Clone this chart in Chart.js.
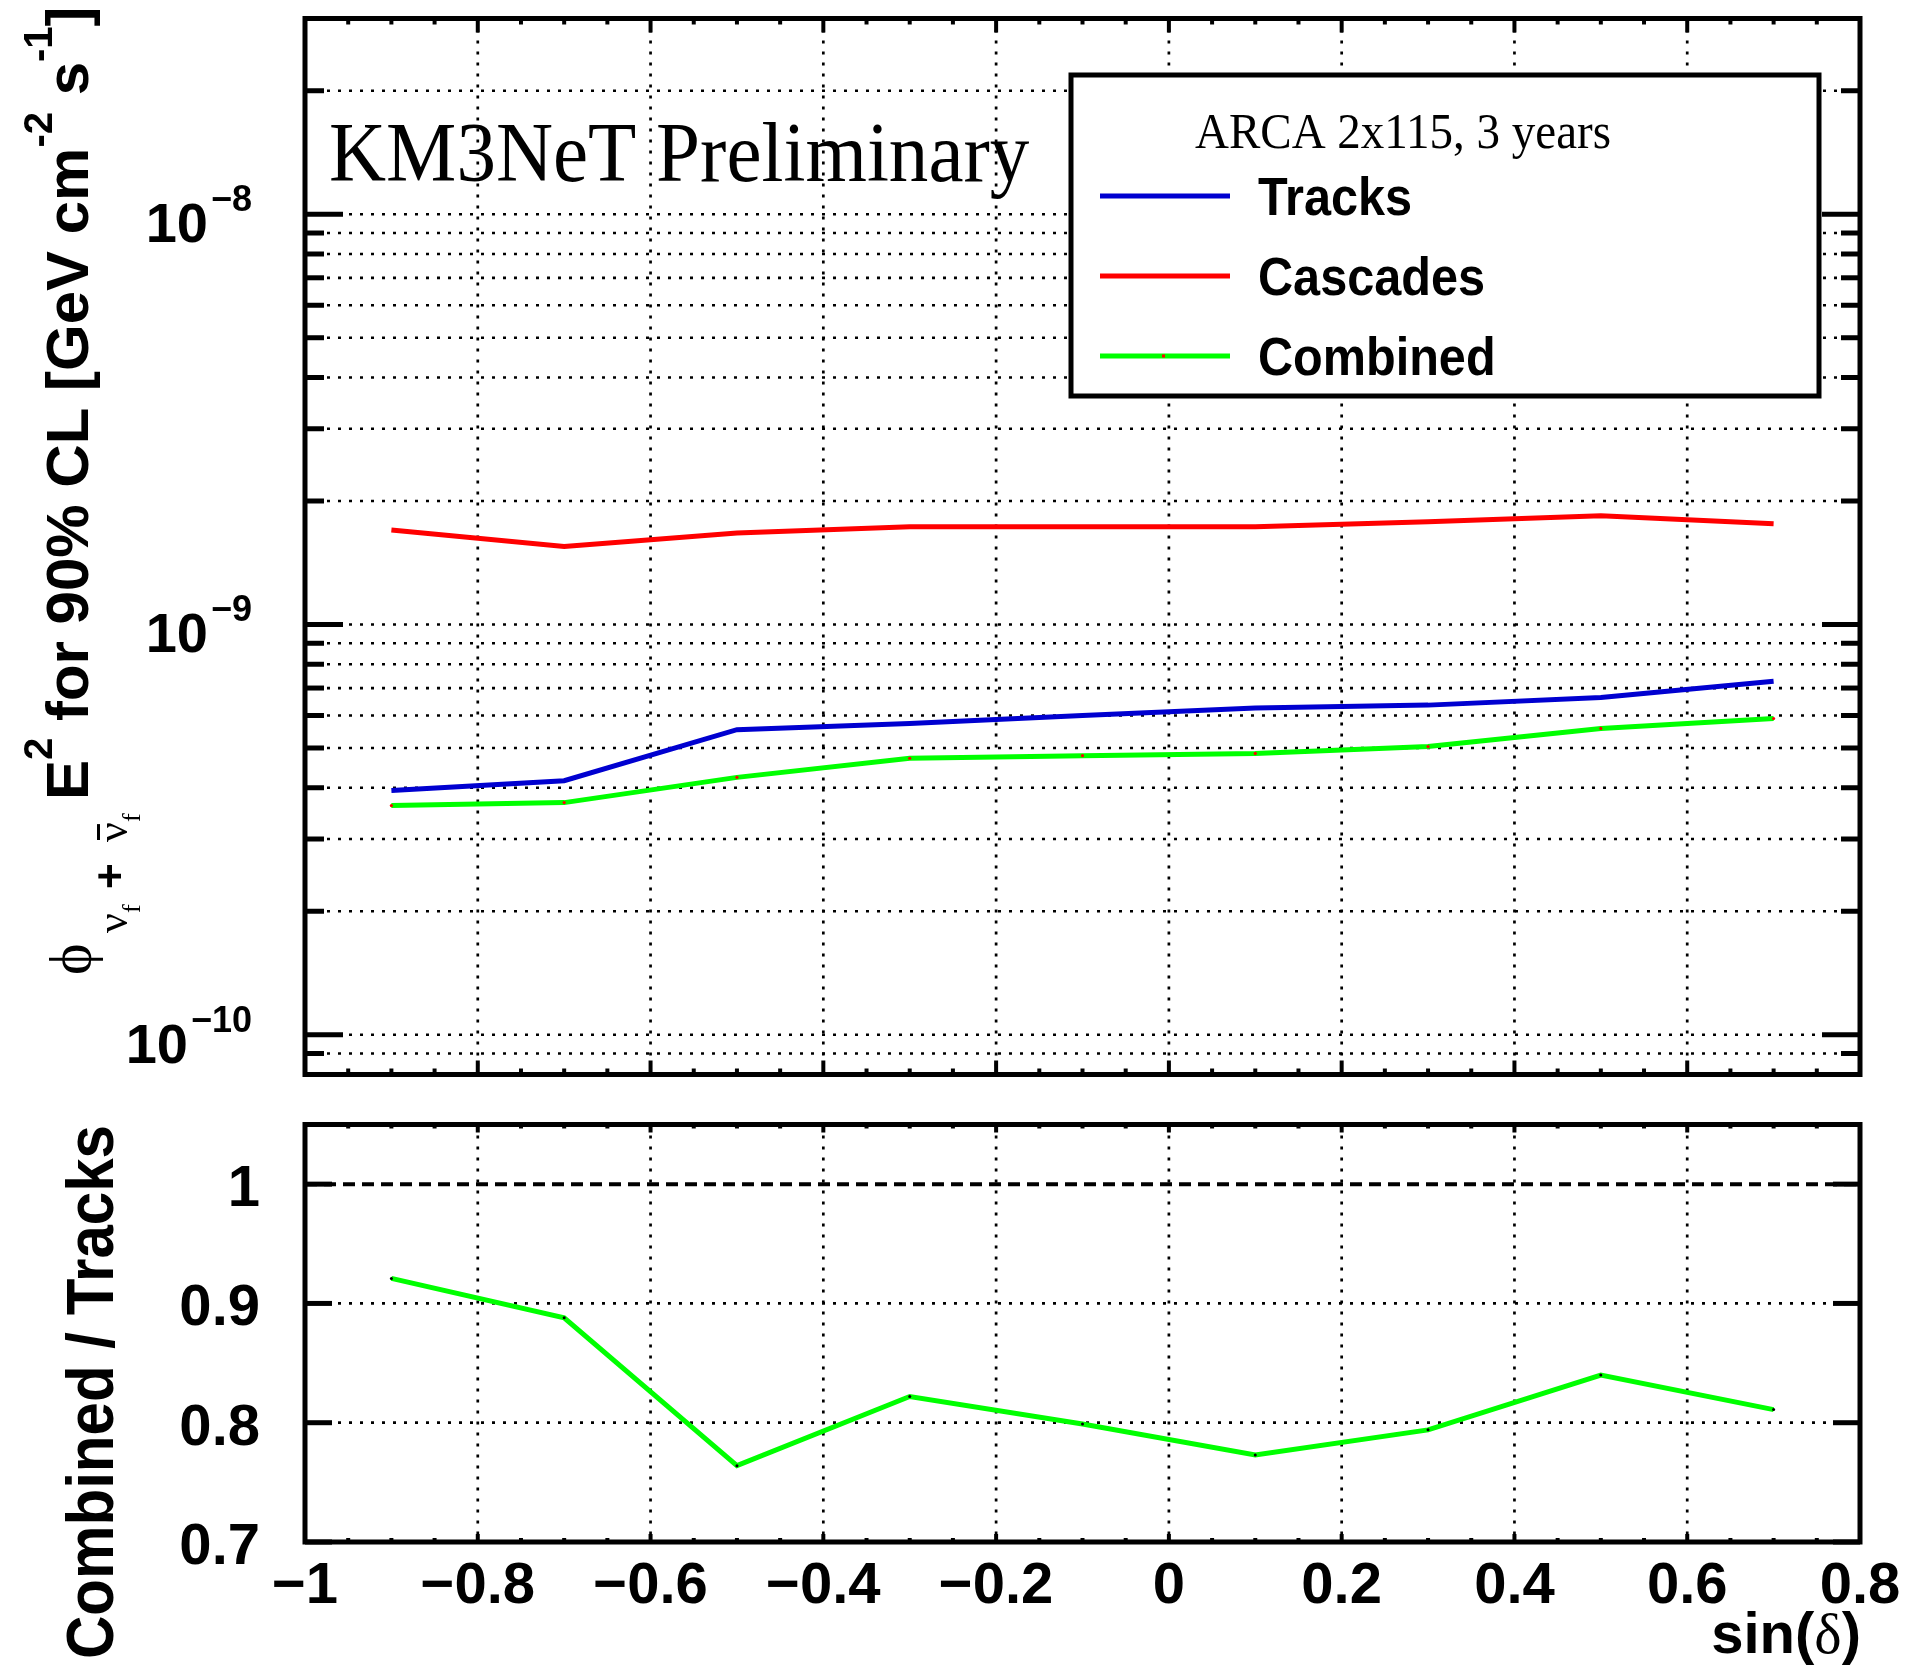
<!DOCTYPE html>
<html>
<head>
<meta charset="UTF-8">
<title>KM3NeT ARCA - limites 90% CL</title>
<script src="https://cdn.jsdelivr.net/npm/chart.js"></script>
<style>
  body { margin: 0; background: #fff; }
  #wrap { position: relative; width: 1906px; height: 1672px; }
  canvas { position: absolute; left: 0; top: 0; }
</style>
</head>
<body>
<div id="wrap">
  <canvas id="haut" width="1906" height="1672"></canvas>
  <canvas id="bas" width="1906" height="1672"></canvas>
</div>
<script>
// valeurs
const sinDec = [-0.9, -0.7, -0.5, -0.3, -0.1, 0.1, 0.3, 0.5, 0.7];
const tracks = [3.94e-10, 4.16e-10, 5.54e-10, 5.74e-10, 6.0e-10, 6.26e-10, 6.36e-10, 6.64e-10, 7.27e-10];
const cascades = [1.70e-9, 1.55e-9, 1.67e-9, 1.73e-9, 1.73e-9, 1.73e-9, 1.78e-9, 1.84e-9, 1.76e-9];
const combined = [3.62e-10, 3.68e-10, 4.24e-10, 4.72e-10, 4.79e-10, 4.85e-10, 5.04e-10, 5.58e-10, 5.90e-10];
const ratio = [0.921, 0.888, 0.764, 0.822, 0.799, 0.773, 0.794, 0.840, 0.811];
const refLineX = [-1, 0.8];
const refLineY = [1, 1];

// axes
const xTicks = [-1, -0.8, -0.6, -0.4, -0.2, 0, 0.2, 0.4, 0.6, 0.8];
const xTickLabels = ['\u22121', '\u22120.8', '\u22120.6', '\u22120.4', '\u22120.2', '0', '0.2', '0.4', '0.6', '0.8'];
const yLogMajor = [1e-10, 1e-9, 1e-8];
const yLogExp = ['\u221210', '\u22129', '\u22128'];
const yLogGrid = [9e-11, 1e-10, 2e-10, 3e-10, 4e-10, 5e-10, 6e-10, 7e-10, 8e-10, 9e-10,
                  1e-9, 2e-9, 3e-9, 4e-9, 5e-9, 6e-9, 7e-9, 8e-9, 9e-9, 1e-8, 2e-8];
const yRatioTicks = [0.7, 0.8, 0.9, 1];
const yRatioLabels = ['0.7', '0.8', '0.9', '1'];

const SANS = '"Liberation Sans", Arial, Helvetica, sans-serif';
const SERIF = '"Liberation Serif", "Times New Roman", serif';

const xMinor = [];
for (let v = -1; v <= 0.8001; v += 0.05) xMinor.push(+v.toFixed(2));

function pts(ys) {
    return sinDec.map((x, i) => ({x: x, y: ys[i]}));
}

function dotted(ctx, x1, y1, x2, y2) {
    ctx.save();
    ctx.strokeStyle = '#000';
    ctx.lineWidth = 2.7;
    ctx.setLineDash([3, 8]);
    ctx.beginPath();
    ctx.moveTo(x1, y1);
    ctx.lineTo(x2, y2);
    ctx.stroke();
    ctx.restore();
}

function seg(ctx, x1, y1, x2, y2, w) {
    ctx.save();
    ctx.strokeStyle = '#000';
    ctx.lineWidth = w;
    ctx.beginPath();
    ctx.moveTo(x1, y1);
    ctx.lineTo(x2, y2);
    ctx.stroke();
    ctx.restore();
}

function texte(ctx, str, x, y, font, align, sx) {
    sx = sx || 1;
    ctx.save();
    ctx.font = font;
    ctx.fillStyle = '#000';
    ctx.textBaseline = 'alphabetic';
    ctx.textAlign = 'left';
    const w = ctx.measureText(str).width * sx;
    const x0 = align === 'right' ? x - w : (align === 'center' ? x - w / 2 : x);
    ctx.translate(x0, y);
    ctx.scale(sx, 1);
    ctx.fillText(str, 0, 0);
    ctx.restore();
    return w;
}

// texte tourne de -90 degres, morceaux a la suite (at = position absolue le long du texte)
function texteVertical(ctx, ox, oy, parts) {
    ctx.save();
    ctx.translate(ox, oy);
    ctx.rotate(-Math.PI / 2);
    ctx.fillStyle = '#000';
    ctx.textBaseline = 'alphabetic';
    let x = 0;
    for (const p of parts) {
        ctx.font = p.font;
        if (p.at != null) x = p.at;
        const w = ctx.measureText(p.t).width;
        ctx.fillText(p.t, x, p.dy || 0);
        if (p.bar) ctx.fillRect(x + 2, p.dy - 30, w - 4, 3);
        x += w;
    }
    ctx.restore();
}

function frame(ctx, a) {
    ctx.save();
    ctx.strokeStyle = '#000';
    ctx.lineWidth = 5;
    ctx.strokeRect(a.left, a.top, a.right - a.left, a.bottom - a.top);
    ctx.restore();
}

const cadreHaut = {
    id: 'cadreHaut',
    beforeDatasetsDraw(chart) {
        const ctx = chart.ctx, a = chart.chartArea;
        const sx = chart.scales.x, sy = chart.scales.y;
        xTicks.slice(1, -1).forEach(v => {
            const px = sx.getPixelForValue(v);
            dotted(ctx, px, a.top, px, a.bottom);
        });
        yLogGrid.forEach(v => {
            const py = sy.getPixelForValue(v);
            dotted(ctx, a.left, py, a.right, py);
        });
    },
    afterDatasetsDraw(chart) {
        const ctx = chart.ctx, a = chart.chartArea;
        const sx = chart.scales.x, sy = chart.scales.y;

        // ticks
        yLogGrid.forEach(v => {
            const py = sy.getPixelForValue(v);
            const len = yLogMajor.includes(v) ? 38 : 19;
            seg(ctx, a.left, py, a.left + len, py, 5);
            seg(ctx, a.right, py, a.right - len, py, 5);
        });
        xMinor.forEach(v => {
            const px = sx.getPixelForValue(v);
            const len = xTicks.some(t => Math.abs(t - v) < 1e-6) ? 14 : 6;
            seg(ctx, px, a.bottom, px, a.bottom - len, 4);
            seg(ctx, px, a.top, px, a.top + len, 4);
        });
        frame(ctx, a);

        // legende
        const lx = 1071, ly = 75, lw = 748, lh = 321;
        ctx.save();
        ctx.fillStyle = '#fff';
        ctx.fillRect(lx, ly, lw, lh);
        ctx.strokeStyle = '#000';
        ctx.lineWidth = 5;
        ctx.strokeRect(lx, ly, lw, lh);
        ctx.restore();
        texte(ctx, 'ARCA 2x115, 3 years', 1195, 148, '50px ' + SERIF, 'left', 0.94);
        const rows = [196, 276, 356];
        chart.data.datasets.forEach((ds, i) => {
            ctx.save();
            ctx.strokeStyle = ds.borderColor;
            ctx.lineWidth = 5;
            ctx.beginPath();
            ctx.moveTo(1100, rows[i]);
            ctx.lineTo(1230, rows[i]);
            ctx.stroke();
            if (ds.pointRadius > 0) {
                ctx.fillStyle = ds.pointBackgroundColor;
                ctx.fillRect(1162, rows[i] - 1.5, 3, 3);
            }
            ctx.restore();
            texte(ctx, ds.label, 1258, rows[i] + 19, 'bold 54px ' + SANS, 'left', 0.9);
        });

        // KM3NeT
        texte(ctx, 'KM3NeT Preliminary', 329, 181, '85px ' + SERIF, 'left', 0.93);

        // graduations y
        yLogMajor.forEach((v, i) => {
            const py = sy.getPixelForValue(v);
            const wExp = texte(ctx, yLogExp[i], 252, py - 3, 'bold 36px ' + SANS, 'right');
            texte(ctx, '10', 252 - wExp - 3, py + 28, 'bold 56px ' + SANS, 'right');
        });

        // titre y
        texteVertical(ctx, 88, 975, [
            {t: '\u03d5', font: '60px ' + SERIF, at: 0, dy: 2},
            {t: '\u03bd', font: '44px ' + SERIF, at: 42, dy: 39},
            {t: 'f', font: '26px ' + SERIF, dy: 52},
            {t: '+', font: 'bold 44px ' + SANS, at: 86, dy: 37},
            {t: '\u03bd', font: '44px ' + SERIF, at: 133, dy: 39, bar: true},
            {t: 'f', font: '26px ' + SERIF, dy: 52}
        ]);
        texteVertical(ctx, 88, 800, [
            {t: 'E', font: 'bold 60px ' + SANS},
            {t: '2', font: 'bold 40px ' + SANS, dy: -36},
            {t: ' for 90% CL [GeV cm', font: 'bold 60px ' + SANS},
            {t: '-2', font: 'bold 40px ' + SANS, dy: -36},
            {t: ' s', font: 'bold 60px ' + SANS},
            {t: '-1', font: 'bold 40px ' + SANS, dy: -36},
            {t: ']', font: 'bold 60px ' + SANS}
        ]);
    }
};

const cadreBas = {
    id: 'cadreBas',
    beforeDatasetsDraw(chart) {
        const ctx = chart.ctx, a = chart.chartArea;
        const sx = chart.scales.x, sy = chart.scales.y;
        xTicks.slice(1, -1).forEach(v => {
            const px = sx.getPixelForValue(v);
            dotted(ctx, px, a.top, px, a.bottom);
        });
        [0.8, 0.9].forEach(v => {
            const py = sy.getPixelForValue(v);
            dotted(ctx, a.left, py, a.right, py);
        });
    },
    afterDatasetsDraw(chart) {
        const ctx = chart.ctx, a = chart.chartArea;
        const sx = chart.scales.x, sy = chart.scales.y;
        yRatioTicks.forEach(v => {
            const py = sy.getPixelForValue(v);
            seg(ctx, a.left, py, a.left + 27, py, 5);
            seg(ctx, a.right, py, a.right - 27, py, 5);
        });
        xMinor.forEach(v => {
            const px = sx.getPixelForValue(v);
            const len = xTicks.some(t => Math.abs(t - v) < 1e-6) ? 8 : 4;
            seg(ctx, px, a.bottom, px, a.bottom - len, 4);
            seg(ctx, px, a.top, px, a.top + len, 4);
        });
        frame(ctx, a);

        yRatioTicks.forEach((v, i) => {
            texte(ctx, yRatioLabels[i], 260, sy.getPixelForValue(v) + 22, 'bold 58px ' + SANS, 'right');
        });
        xTicks.forEach((v, i) => {
            texte(ctx, xTickLabels[i], sx.getPixelForValue(v), 1603, 'bold 58px ' + SANS, 'center');
        });

        // titre x : sin(delta)
        let x = 1861;
        x -= texte(ctx, ')', x, 1653, 'bold 58px ' + SANS, 'right');
        x -= texte(ctx, '\u03b4', x, 1653, '58px ' + SERIF, 'right');
        texte(ctx, 'sin(', x, 1653, 'bold 58px ' + SANS, 'right');

        // titre y
        ctx.save();
        ctx.translate(113, 1392);
        ctx.rotate(-Math.PI / 2);
        ctx.scale(0.91, 1);
        ctx.font = 'bold 66px ' + SANS;
        ctx.fillStyle = '#000';
        ctx.textAlign = 'center';
        ctx.fillText('Combined / Tracks', 0, 0);
        ctx.restore();
    }
};

const baseOptions = (pad, yScale) => ({
    responsive: false,
    devicePixelRatio: 1,
    animation: false,
    layout: {padding: pad},
    plugins: {legend: {display: false}, tooltip: {enabled: false}},
    elements: {line: {tension: 0}},
    scales: {
        x: {type: 'linear', min: -1, max: 0.8, display: false},
        y: yScale
    }
});

new Chart(document.getElementById('haut').getContext('2d'), {
    type: 'line',
    data: {
        datasets: [
            {label: 'Tracks', data: pts(tracks), borderColor: '#0000d0', borderWidth: 5, pointRadius: 0},
            {label: 'Cascades', data: pts(cascades), borderColor: '#ff0000', borderWidth: 5, pointRadius: 0},
            {label: 'Combined', data: pts(combined), borderColor: '#00ff00', borderWidth: 5,
             pointRadius: 1.6, pointBorderWidth: 0, pointBackgroundColor: '#ff0000'}
        ]
    },
    options: baseOptions({left: 305, top: 18.5, right: 46, bottom: 597.5},
        {type: 'logarithmic', min: 8e-11, max: 3e-8, display: false}),
    plugins: [cadreHaut]
});

new Chart(document.getElementById('bas').getContext('2d'), {
    type: 'line',
    data: {
        datasets: [
            {label: 'ref', data: refLineX.map((x, i) => ({x: x, y: refLineY[i]})),
             borderColor: '#000', borderWidth: 4, borderDash: [12, 7], pointRadius: 0},
            {label: 'Combined / Tracks', data: pts(ratio), borderColor: '#00ff00', borderWidth: 5,
             pointRadius: 1.5, pointBorderWidth: 0, pointBackgroundColor: '#000'}
        ]
    },
    options: baseOptions({left: 305, top: 1124.5, right: 46, bottom: 130},
        {type: 'linear', min: 0.7, max: 1.05, display: false}),
    plugins: [cadreBas]
});
</script>
</body>
</html>
